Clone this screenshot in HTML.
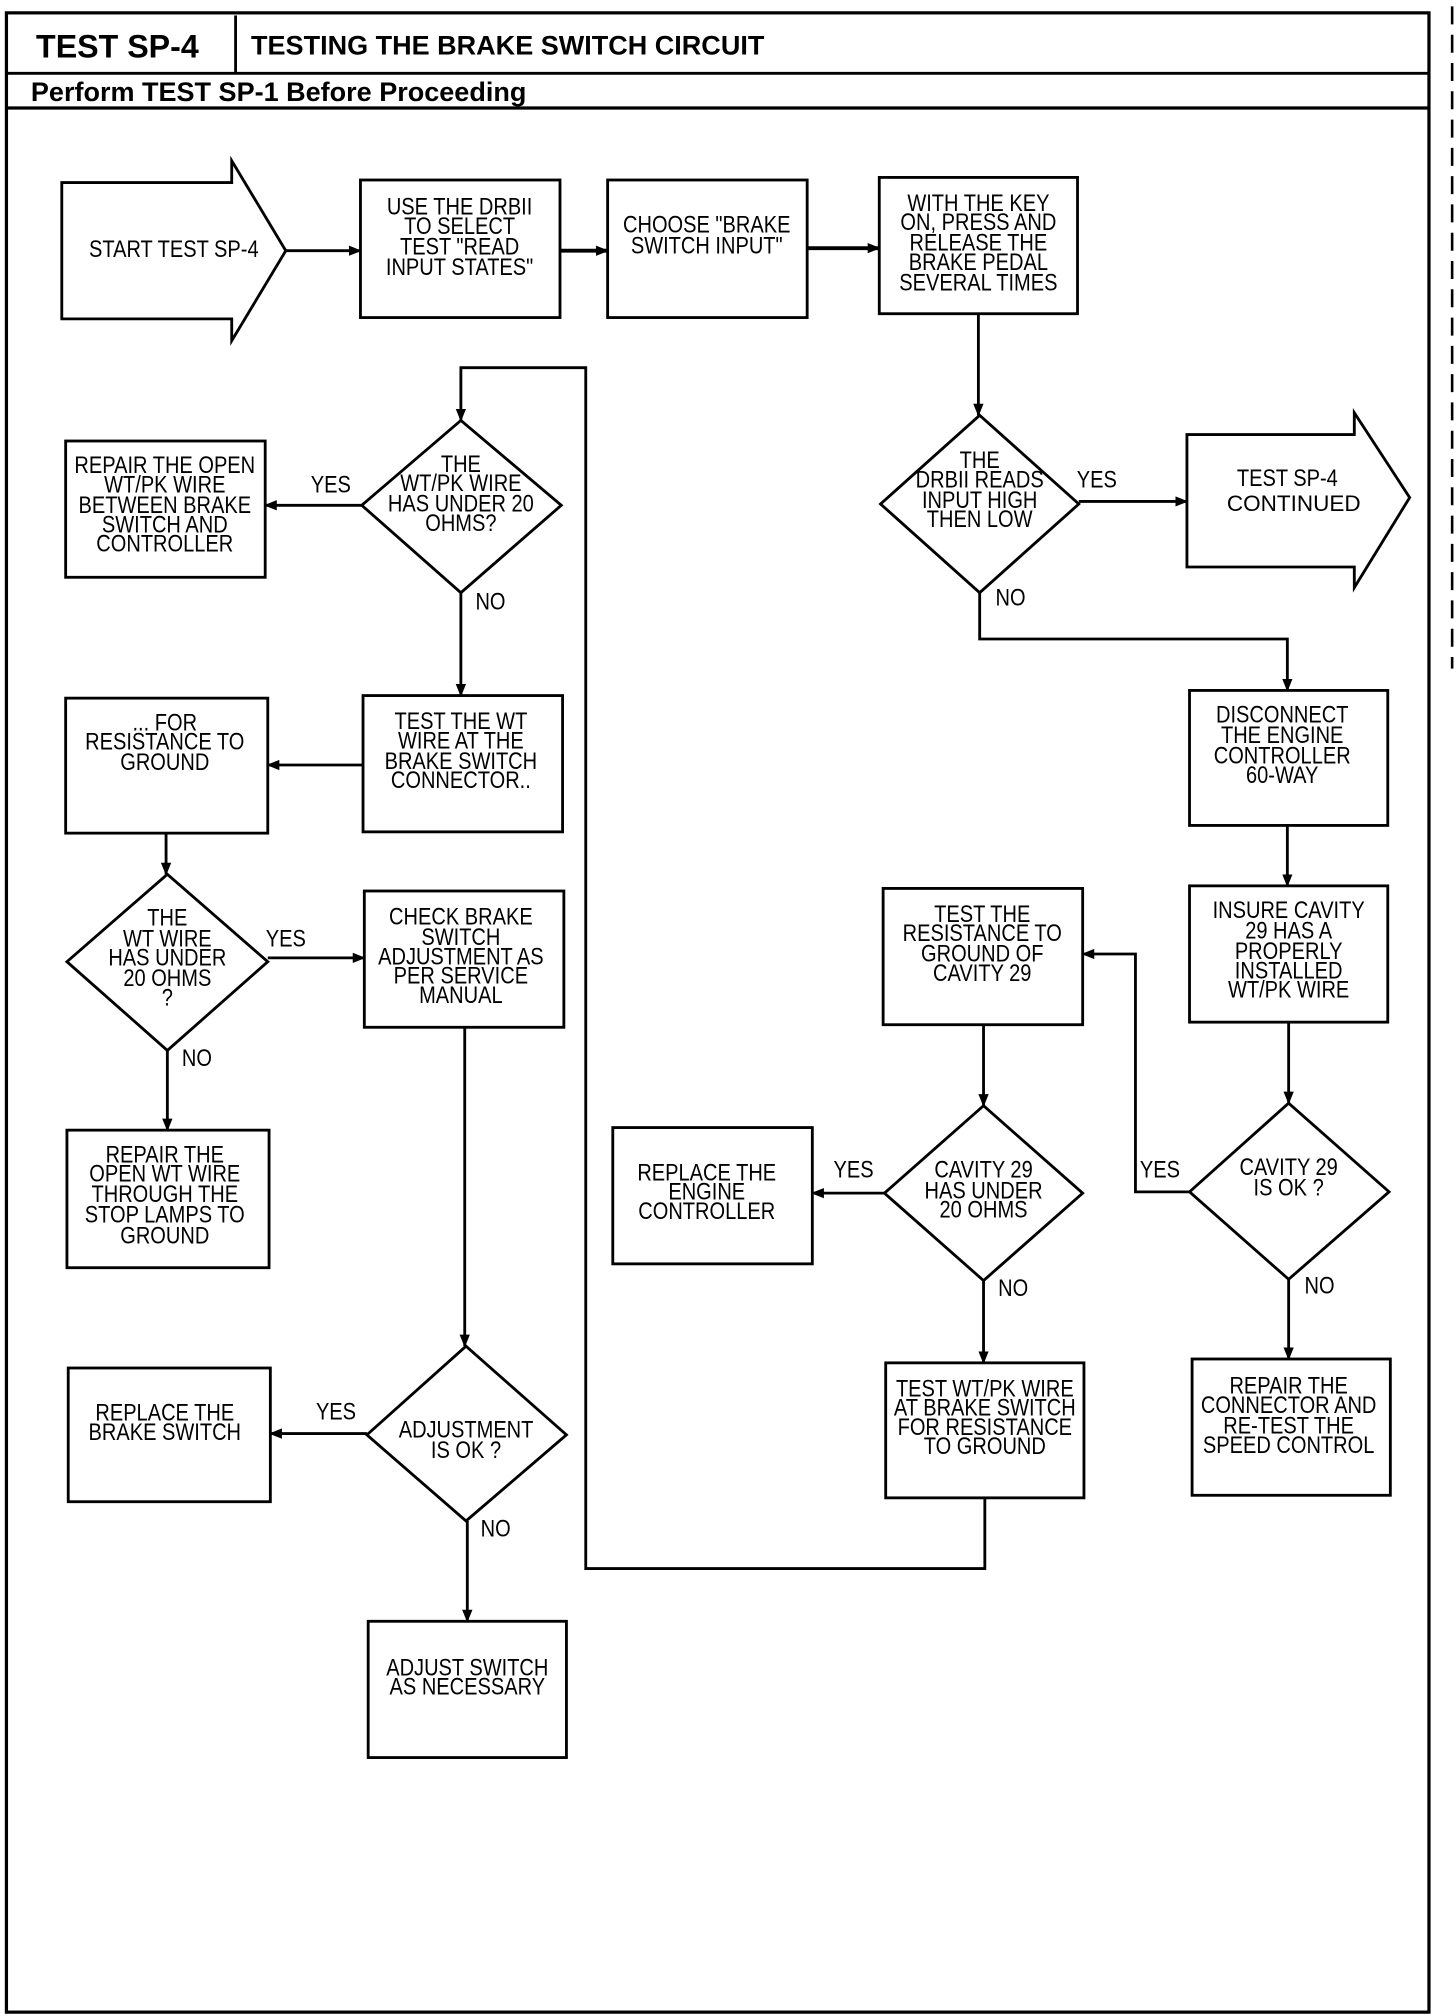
<!DOCTYPE html>
<html><head><meta charset="utf-8"><style>
html,body{margin:0;padding:0;background:#fff;}
svg{display:block;}
text{font-family:"Liberation Sans",sans-serif;font-size:19px;fill:#000;text-anchor:middle;dominant-baseline:middle;}
.l text{transform:scaleX(0.82);transform-box:fill-box;transform-origin:center;}
.h{font-family:"Liberation Sans",sans-serif;font-weight:bold;text-anchor:start;}
</style></head><body>
<svg width="1456" height="2016" viewBox="0 0 1131 1568" preserveAspectRatio="none" xmlns="http://www.w3.org/2000/svg">
<defs><marker id="a" markerWidth="10" markerHeight="10" refX="9" refY="5" orient="auto" markerUnits="userSpaceOnUse"><path d="M0,1 L10,5 L0,9 Z" fill="#000"/></marker></defs>
<g fill="none" stroke="#000" stroke-width="2.2">
<rect x="5" y="10" width="1105" height="1555" stroke-width="2.5"/>
<line x1="5" y1="57" x2="1110" y2="57"/>
<line x1="5" y1="84" x2="1110" y2="84" stroke-width="2.5"/>
<line x1="183" y1="12" x2="183" y2="57"/>
<line x1="1128" y1="5" x2="1128" y2="520" stroke-dasharray="14,8" stroke-width="2"/>
<polygon points="48,142 180,142 180,125 222,195 180,265 180,248 48,248"/>
<rect x="280" y="140" width="155" height="107"/>
<rect x="472" y="140" width="155" height="107"/>
<rect x="683" y="138" width="154" height="106"/>
<polygon points="761,323 838,392 761,461 684,392"/>
<polygon points="922,338 1052,338 1052,321 1095,387 1052,457 1052,441 922,441"/>
<rect x="924" y="537" width="154" height="105"/>
<rect x="924" y="689" width="154" height="106"/>
<polygon points="1001,858 1079,927 1001,995 924,927"/>
<rect x="926" y="1057" width="154" height="106"/>
<rect x="686" y="691" width="155" height="106"/>
<polygon points="764,860 841,928 764,996 687,928"/>
<rect x="476" y="877" width="155" height="106"/>
<rect x="688" y="1060" width="154" height="105"/>
<polygon points="358,327 436,393 358,461 281,393"/>
<rect x="51" y="343" width="155" height="106"/>
<rect x="282" y="541" width="155" height="106"/>
<rect x="51" y="543" width="157" height="105"/>
<polygon points="130,680 208,748 130,817 52,748"/>
<rect x="283" y="693" width="155" height="106"/>
<rect x="52" y="879" width="157" height="107"/>
<polygon points="362,1047 440,1116 362,1183 285,1116"/>
<rect x="53" y="1064" width="157" height="104"/>
<rect x="286" y="1261" width="154" height="106"/>
<line x1="222" y1="195" x2="280" y2="195" marker-end="url(#a)"/>
<line x1="435" y1="195" x2="472" y2="195" marker-end="url(#a)" stroke-width="3"/>
<line x1="627" y1="193" x2="683" y2="193" marker-end="url(#a)" stroke-width="3"/>
<line x1="760" y1="244" x2="760" y2="323" marker-end="url(#a)"/>
<line x1="838" y1="390" x2="922" y2="390" marker-end="url(#a)"/>
<polyline points="761,461 761,497 1000,497 1000,537" marker-end="url(#a)"/>
<line x1="1000" y1="642" x2="1000" y2="689" marker-end="url(#a)"/>
<line x1="1001" y1="795" x2="1001" y2="858" marker-end="url(#a)"/>
<polyline points="924,927 882,927 882,742 841,742" marker-end="url(#a)"/>
<line x1="1001" y1="995" x2="1001" y2="1057" marker-end="url(#a)"/>
<line x1="764" y1="797" x2="764" y2="860" marker-end="url(#a)"/>
<line x1="687" y1="928" x2="631" y2="928" marker-end="url(#a)"/>
<line x1="764" y1="996" x2="764" y2="1060" marker-end="url(#a)"/>
<polyline points="765,1165 765,1220 455,1220 455,286 358,286 358,327" marker-end="url(#a)"/>
<line x1="281" y1="393" x2="206" y2="393" marker-end="url(#a)"/>
<line x1="358" y1="461" x2="358" y2="541" marker-end="url(#a)"/>
<line x1="282" y1="595" x2="208" y2="595" marker-end="url(#a)"/>
<line x1="129" y1="648" x2="129" y2="680" marker-end="url(#a)"/>
<line x1="208" y1="745" x2="283" y2="745" marker-end="url(#a)"/>
<line x1="130" y1="817" x2="130" y2="879" marker-end="url(#a)"/>
<line x1="361" y1="799" x2="361" y2="1047" marker-end="url(#a)"/>
<line x1="285" y1="1115" x2="210" y2="1115" marker-end="url(#a)"/>
<line x1="363" y1="1183" x2="363" y2="1261" marker-end="url(#a)"/>
</g>
<text class="h" x="28" y="38" style="font-size:25px">TEST SP-4</text>
<text class="h" x="195" y="37" style="font-size:21px">TESTING THE BRAKE SWITCH CIRCUIT</text>
<text class="h" x="24" y="73" style="font-size:21px">Perform TEST SP-1 Before Proceeding</text>
<g class="l">
<text x="135" y="195">START TEST SP-4</text>
<text x="357" y="162">USE THE DRBII</text><text x="357" y="177">TO SELECT</text><text x="357" y="193">TEST "READ</text><text x="357" y="209">INPUT STATES"</text>
<text x="549" y="176">CHOOSE "BRAKE</text><text x="549" y="192">SWITCH INPUT"</text>
<text x="760" y="159">WITH THE KEY</text><text x="760" y="174">ON, PRESS AND</text><text x="760" y="190">RELEASE THE</text><text x="760" y="205">BRAKE PEDAL</text><text x="760" y="221">SEVERAL TIMES</text>
<text x="761" y="359">THE</text><text x="761" y="374">DRBII READS</text><text x="761" y="390">INPUT HIGH</text><text x="761" y="405">THEN LOW</text>
<text x="852" y="374">YES</text><text x="785" y="466">NO</text>
<text x="1000" y="373">TEST SP-4</text>
<text x="1005" y="393" style="font-size:17.5px;transform:none">CONTINUED</text>
<text x="996" y="557">DISCONNECT</text><text x="996" y="573">THE ENGINE</text><text x="996" y="589">CONTROLLER</text><text x="996" y="604">60-WAY</text>
<text x="1001" y="709">INSURE CAVITY</text><text x="1001" y="725">29 HAS A</text><text x="1001" y="741">PROPERLY</text><text x="1001" y="756">INSTALLED</text><text x="1001" y="771">WT/PK WIRE</text>
<text x="1001" y="909">CAVITY 29</text><text x="1001" y="925">IS OK ?</text>
<text x="901" y="911">YES</text><text x="1025" y="1001">NO</text>
<text x="1001" y="1079">REPAIR THE</text><text x="1001" y="1094">CONNECTOR AND</text><text x="1001" y="1110">RE-TEST THE</text><text x="1001" y="1125">SPEED CONTROL</text>
<text x="763" y="712">TEST THE</text><text x="763" y="727">RESISTANCE TO</text><text x="763" y="743">GROUND OF</text><text x="763" y="758">CAVITY 29</text>
<text x="764" y="911">CAVITY 29</text><text x="764" y="927">HAS UNDER</text><text x="764" y="942">20 OHMS</text>
<text x="663" y="911">YES</text><text x="787" y="1003">NO</text>
<text x="549" y="913">REPLACE THE</text><text x="549" y="928">ENGINE</text><text x="549" y="943">CONTROLLER</text>
<text x="765" y="1081">TEST WT/PK WIRE</text><text x="765" y="1096">AT BRAKE SWITCH</text><text x="765" y="1111">FOR RESISTANCE</text><text x="765" y="1126">TO GROUND</text>
<text x="358" y="362">THE</text><text x="358" y="377">WT/PK WIRE</text><text x="358" y="393">HAS UNDER 20</text><text x="358" y="408">OHMS?</text>
<text x="257" y="378">YES</text><text x="381" y="469">NO</text>
<text x="128" y="363">REPAIR THE OPEN</text><text x="128" y="378">WT/PK WIRE</text><text x="128" y="394">BETWEEN BRAKE</text><text x="128" y="409">SWITCH AND</text><text x="128" y="424">CONTROLLER</text>
<text x="358" y="562">TEST THE WT</text><text x="358" y="577">WIRE AT THE</text><text x="358" y="593">BRAKE SWITCH</text><text x="358" y="608">CONNECTOR..</text>
<text x="128" y="563">... FOR</text><text x="128" y="578">RESISTANCE TO</text><text x="128" y="594">GROUND</text>
<text x="130" y="715">THE</text><text x="130" y="731">WT WIRE</text><text x="130" y="746">HAS UNDER</text><text x="130" y="762">20 OHMS</text><text x="130" y="777">?</text>
<text x="222" y="731">YES</text><text x="153" y="824">NO</text>
<text x="358" y="714">CHECK BRAKE</text><text x="358" y="730">SWITCH</text><text x="358" y="745">ADJUSTMENT AS</text><text x="358" y="760">PER SERVICE</text><text x="358" y="775">MANUAL</text>
<text x="128" y="899">REPAIR THE</text><text x="128" y="914">OPEN WT WIRE</text><text x="128" y="930">THROUGH THE</text><text x="128" y="946">STOP LAMPS TO</text><text x="128" y="962">GROUND</text>
<text x="362" y="1113">ADJUSTMENT</text><text x="362" y="1129">IS OK ?</text>
<text x="261" y="1099">YES</text><text x="385" y="1190">NO</text>
<text x="128" y="1100">REPLACE THE</text><text x="128" y="1115">BRAKE SWITCH</text>
<text x="363" y="1298">ADJUST SWITCH</text><text x="363" y="1313">AS NECESSARY</text>
</g>
</svg>
</body></html>
